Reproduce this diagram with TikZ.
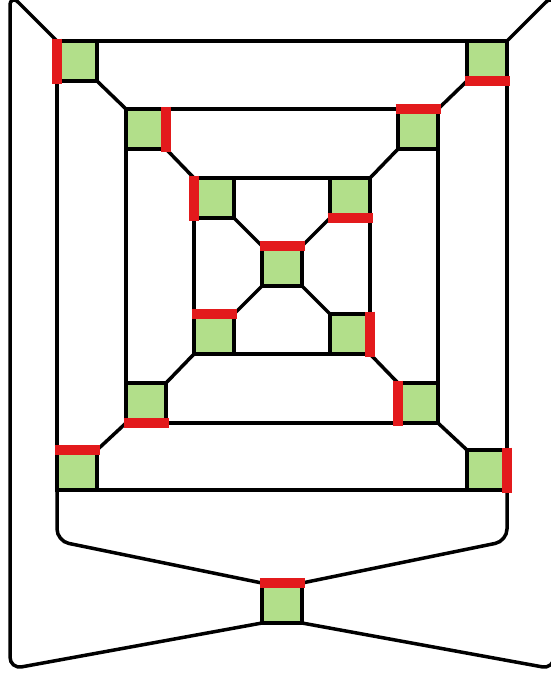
\documentclass[tikz,border=0pt]{standalone}
\usetikzlibrary{backgrounds}
\definecolor{sqgreen}{HTML}{B2DF8A}
\definecolor{barred}{HTML}{E31A1C}
\begin{document}
\begin{tikzpicture}[x=1pt,y=-1pt,
  sq/.style={draw=black,fill=sqgreen,line width=3.5pt,minimum size=40pt,inner sep=0pt,outer sep=0pt},
  ln/.style={draw=black,line width=3.5pt},
  rail/.style={ln,rounded corners=12pt},
  bar/.style={draw=barred,line width=9.5pt}]
\clip (0,0) rectangle (551,675);
% squares
\node[sq] (oTL) at (77,61) {};
\node[sq] (oTR) at (487,61) {};
\node[sq] (oBL) at (77,470) {};
\node[sq] (oBR) at (487,470) {};
\node[sq] (mTL) at (146,129) {};
\node[sq] (mTR) at (418,129) {};
\node[sq] (mBL) at (146,403) {};
\node[sq] (mBR) at (418,403) {};
\node[sq] (tTL) at (214,198) {};
\node[sq] (tTR) at (350,198) {};
\node[sq] (tBL) at (214,334) {};
\node[sq] (tBR) at (350,334) {};
\node[sq] (c) at (282,266) {};
\node[sq] (b) at (282,603) {};
% rail corners
\coordinate (lt) at (10,-6);
\coordinate (lb) at (10,669);
\coordinate (rt) at (554,-6);
\coordinate (rb) at (554,669);
\coordinate (il) at (57,541);
\coordinate (ir) at (507,541);
\begin{scope}[on background layer]
  \draw[ln] (oTL.north west) rectangle (oBR.south east);
  \draw[ln] (mTL.north west) rectangle (mBR.south east);
  \draw[ln] (tTL.north west) rectangle (tBR.south east);
  \draw[ln] (oTL.south east) -- (mTL.north west);
  \draw[ln] (oTR.south west) -- (mTR.north east);
  \draw[ln] (oBL.north east) -- (mBL.south west);
  \draw[ln] (oBR.north west) -- (mBR.south east);
  \draw[ln] (mTL.south east) -- (tTL.north west);
  \draw[ln] (mTR.south west) -- (tTR.north east);
  \draw[ln] (mBL.north east) -- (tBL.south west);
  \draw[ln] (mBR.north west) -- (tBR.south east);
  \draw[ln] (tTL.south east) -- (c.north west);
  \draw[ln] (tTR.south west) -- (c.north east);
  \draw[ln] (tBL.north east) -- (c.south west);
  \draw[ln] (tBR.north west) -- (c.south east);
  \draw[rail] (oTL.north west) -- (lt) -- (lb) -- (b.south west);
  \draw[rail] (oTR.north east) -- (rt) -- (rb) -- (b.south east);
  \draw[rail] (oBL.south west) -- (il) -- (b.north west);
  \draw[rail] (oBR.south east) -- (ir) -- (b.north east);
\end{scope}
% red bars
\draw[bar] ([yshift=2.5pt]oTL.north west) -- ([yshift=-2.5pt]oTL.south west);
\draw[bar] ([xshift=-2.5pt]oTR.south west) -- ([xshift=2.5pt]oTR.south east);
\draw[bar] ([xshift=-2.5pt]oBL.north west) -- ([xshift=2.5pt]oBL.north east);
\draw[bar] ([yshift=2.5pt]oBR.north east) -- ([yshift=-2.5pt]oBR.south east);
\draw[bar] ([yshift=2.5pt]mTL.north east) -- ([yshift=-2.5pt]mTL.south east);
\draw[bar] ([xshift=-2.5pt]mTR.north west) -- ([xshift=2.5pt]mTR.north east);
\draw[bar] ([xshift=-2.5pt]mBL.south west) -- ([xshift=2.5pt]mBL.south east);
\draw[bar] ([yshift=2.5pt]mBR.north west) -- ([yshift=-2.5pt]mBR.south west);
\draw[bar] ([yshift=2.5pt]tTL.north west) -- ([yshift=-2.5pt]tTL.south west);
\draw[bar] ([xshift=-2.5pt]tTR.south west) -- ([xshift=2.5pt]tTR.south east);
\draw[bar] ([xshift=-2.5pt]tBL.north west) -- ([xshift=2.5pt]tBL.north east);
\draw[bar] ([yshift=2.5pt]tBR.north east) -- ([yshift=-2.5pt]tBR.south east);
\draw[bar] ([xshift=-2.5pt]c.north west) -- ([xshift=2.5pt]c.north east);
\draw[bar] ([xshift=-2.5pt]b.north west) -- ([xshift=2.5pt]b.north east);
\end{tikzpicture}
\end{document}
